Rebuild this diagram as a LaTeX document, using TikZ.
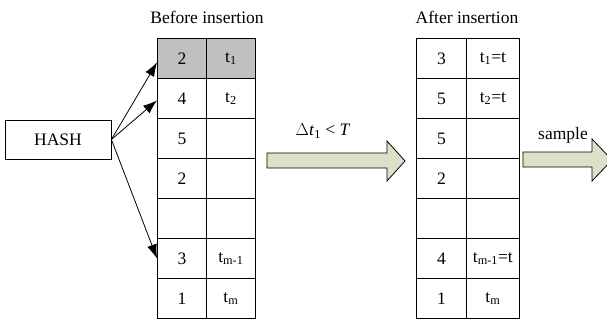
\documentclass[tikz,border=0pt]{standalone}
\usepackage{fontspec}
\setmainfont{Liberation Serif}
\usetikzlibrary{arrows.meta}
\definecolor{cellgray}{RGB}{192,192,192}
\definecolor{arrowfill}{RGB}{221,224,200}
\begin{document}
\begin{tikzpicture}[x=1pt,y=-1pt,
  font=\fontsize{17.5}{20}\selectfont,
  lw/.style={line width=0.8pt},
  cellbox/.style={draw, lw, inner sep=0pt, minimum height=40pt, anchor=north west},
  ncell/.style={cellbox, minimum width=49pt},
  tcell/.style={cellbox, minimum width=49pt},
  rncell/.style={cellbox, minimum width=50pt},
  rtcell/.style={cellbox, minimum width=53pt},
  hasharrow/.style={lw, -{Latex[length=14pt,width=10pt]}},
  bigarrow/.style={draw, lw, fill=arrowfill, line join=miter}
]
\useasboundingbox (0,0) rectangle (607,322);

% titles
\node (tb) at (207,17) {Before insertion};
\node (ta) at (467,17) {After insertion};

% left table
\foreach \i/\n/\t in {1/2/t\textsubscript{1},2/4/t\textsubscript{2},3/5/,4/2/,5//,6/3/t\textsubscript{m-1},7/1/t\textsubscript{m}}{
  \node[ncell] (la\i) at (157,{38+40*(\i-1)}) {\n};
  \node[tcell] (lb\i) at (206,{38+40*(\i-1)}) {\t};
}
\node[ncell, fill=cellgray] at (la1.north west) {2};
\node[tcell, fill=cellgray] at (lb1.north west) {t\textsubscript{1}};

% right table
\foreach \i/\n/\t in {1/3/t\textsubscript{1}=t,2/5/t\textsubscript{2}=t,3/5/,4/2/,5//,6/4/t\textsubscript{m-1}=t,7/1/t\textsubscript{m}}{
  \node[rncell] (ra\i) at (416,{38+40*(\i-1)}) {\n};
  \node[rtcell] (rb\i) at (466,{38+40*(\i-1)}) {\t};
}

% HASH
\node[draw, lw, minimum width=106pt, minimum height=39pt, inner sep=0pt] (hash) at (58,139.5) {HASH};
\draw[hasharrow] (hash.east) -- ([yshift=-4pt]la1.west);
\draw[hasharrow] (hash.east) -- ([yshift=-2pt]la2.west);
\draw[hasharrow] (hash.east) -- (la6.west);

% big arrows
\draw[bigarrow] (267,153) -- (387,153) -- (387,141) -- (405,161) -- (387,181) -- (387,168) -- (267,168) -- cycle;
\node (dl) at (323,131) {$\Delta$\textit{t}\textsubscript{1} < \textit{T}};

\draw[bigarrow] (523,152) -- (592,152) -- (592,139) -- (612,160) -- (592,181) -- (592,167) -- (523,167) -- cycle;
\node (sl) at (563,135) {sample};
\end{tikzpicture}
\end{document}
